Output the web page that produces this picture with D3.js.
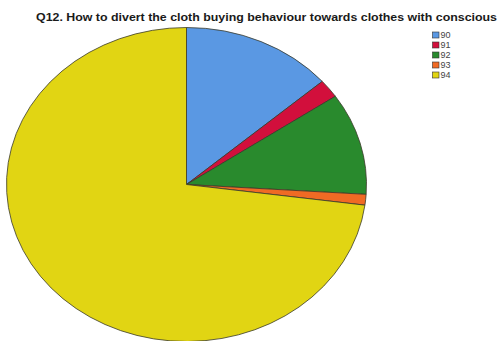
<!DOCTYPE html>
<html>
<head>
<meta charset="utf-8">
<script src="https://cdn.jsdelivr.net/npm/d3@7"></script>
<style>
  html, body { margin: 0; padding: 0; background: #fff; }
  svg { display: block; }
</style>
</head>
<body>
<svg id="chart" width="499" height="341"></svg>
<script>
// Response categories and their share of answers (%)
const categories = ["90", "91", "92", "93", "94"];
const shares = [13.6, 1.9, 10.5, 1.1, 72.9];
const colors = ["#5a98e3", "#d20f3c", "#298a2d", "#f06a24", "#e1d513"];
const title = "Q12. How to divert the cloth buying behaviour towards clothes with conscious";

const svg = d3.select("#chart");

// Pie is drawn as an ellipse: a circle of radius ry stretched horizontally
const cx = 186.5, cy = 184.5, rx = 180, ry = 157;

const data = categories.map((c, i) => ({ cat: c, value: shares[i] }));

const pie = d3.pie().sort(null).value(d => d.value).startAngle(0).endAngle(2 * Math.PI);
const arc = d3.arc().innerRadius(0).outerRadius(ry);
const color = d3.scaleOrdinal().domain(categories).range(colors);

const g = svg.append("g")
  .attr("transform", `translate(${cx},${cy}) scale(${rx / ry},1)`);

g.selectAll("path")
  .data(pie(data))
  .join("path")
  .attr("d", arc)
  .attr("fill", d => color(d.data.cat))
  .attr("stroke", "#3a3a2a")
  .attr("stroke-width", 0.8)
  .attr("stroke-linejoin", "round")
  .attr("vector-effect", "non-scaling-stroke");

// Title
svg.append("text")
  .attr("x", 36)
  .attr("y", 20.5)
  .attr("font-family", "Liberation Sans, Arial, sans-serif")
  .attr("font-weight", "bold")
  .attr("font-size", 10)
  .attr("fill", "#1a1a1a")
  .attr("textLength", 461)
  .attr("lengthAdjust", "spacingAndGlyphs")
  .text(title);

// Legend
const legend = svg.append("g").attr("transform", "translate(432.5,32)");
const rowH = 10;
const item = legend.selectAll("g")
  .data(categories)
  .join("g")
  .attr("transform", (d, i) => `translate(0,${i * rowH})`);

item.append("rect")
  .attr("x", 0).attr("y", 0)
  .attr("width", 6.5).attr("height", 6)
  .attr("fill", d => color(d))
  .attr("stroke", "#333")
  .attr("stroke-width", 0.6);

item.append("text")
  .attr("x", 8)
  .attr("y", 6.3)
  .attr("font-family", "Liberation Sans, Arial, sans-serif")
  .attr("font-size", 9)
  .attr("fill", "#444")
  .text(d => d);
</script>
</body>
</html>
